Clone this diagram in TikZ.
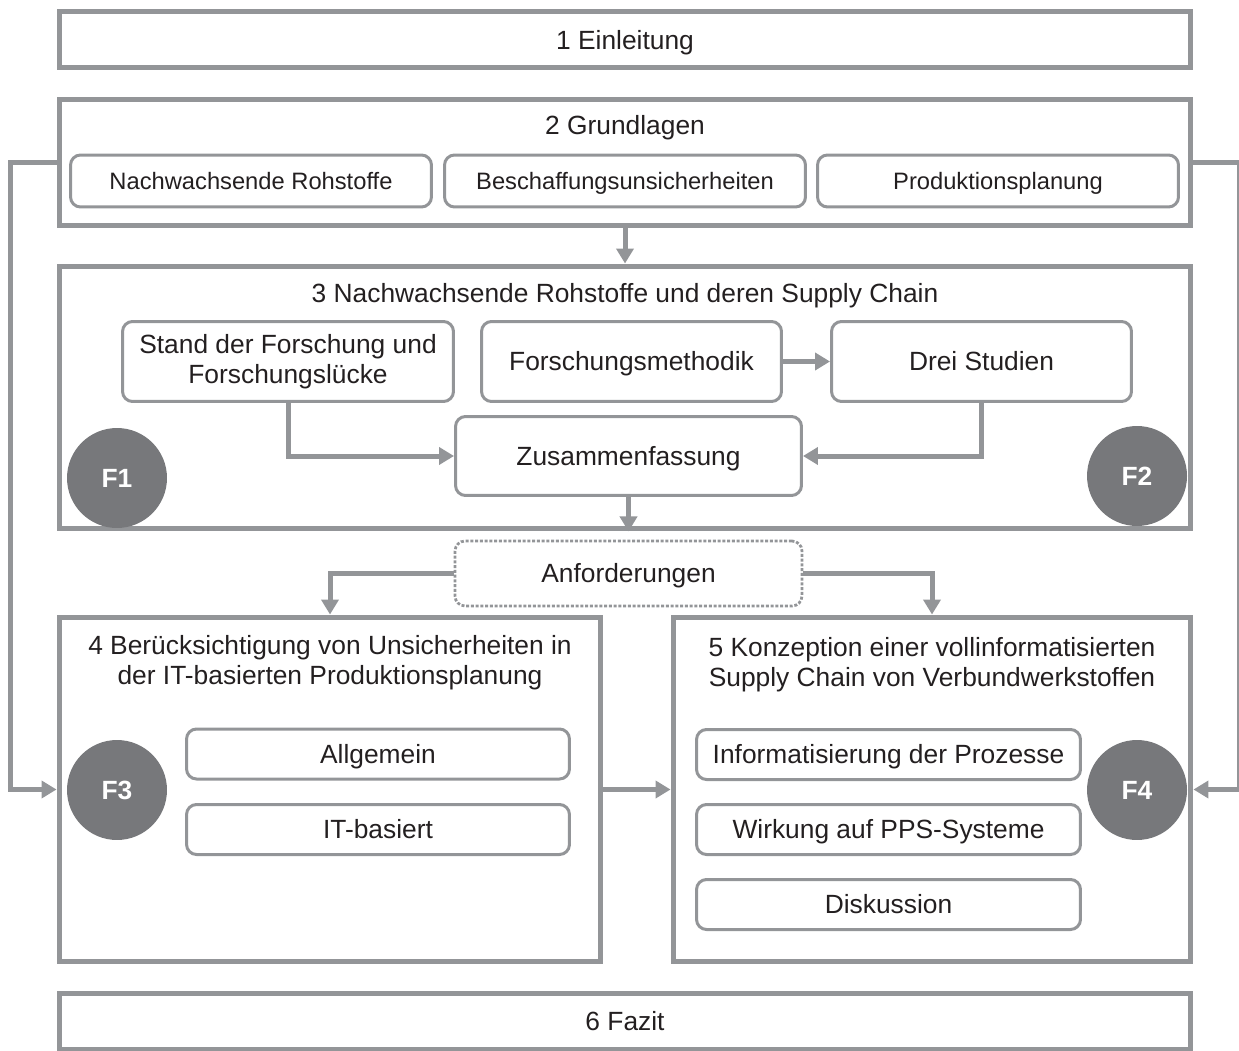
\documentclass[tikz,border=0pt]{standalone}
\usepackage{fontspec}
\setmainfont{Liberation Sans}
\usetikzlibrary{arrows.meta,positioning}

\definecolor{framegray}{HTML}{939598}
\definecolor{circlegray}{HTML}{77787B}
\definecolor{textblack}{HTML}{231F20}

\begin{document}
\begin{tikzpicture}[x=0.02cm,y=-0.02cm]
\tikzset{
  chapterbox/.style={rectangle,draw=framegray,line width=0.1cm,inner sep=0pt},
  oneline/.style={text height=10.8pt,text depth=0pt},
  partbox/.style={rectangle,rounded corners=0.2cm,draw=framegray,line width=0.06cm,inner sep=2pt,
    text=textblack,font=\fontsize{15}{17}\selectfont,align=center},
  smallpart/.style={partbox,oneline,text height=9.7pt,font=\fontsize{13.5}{16}\selectfont},
  resultbox/.style={partbox,oneline,densely dotted,line width=0.055cm},
  titletext/.style={text=textblack,font=\fontsize{15}{17}\selectfont,align=center,inner sep=0pt},
  questionnode/.style={circle,fill=circlegray,minimum size=2cm,inner sep=0pt,text=white,font=\fontsize{15}{17}\selectfont\bfseries},
  flow/.style={draw=framegray,line width=0.1cm,-{Triangle[length=0.3cm,width=0.34cm]}}
}
\useasboundingbox (0,0) rectangle (1239,1050);
% chapters
\node[chapterbox,minimum width=22.64cm,minimum height=1.12cm] (n_ch1) at (625,40) {};
\node[titletext,oneline] (n_t1) at (625,40) {1 Einleitung};
\node[chapterbox,minimum width=22.64cm,minimum height=2.54cm] (n_ch2) at (625,162.5) {};
\node[titletext,oneline] (n_t2) at (625,125) {2 Grundlagen};
\node[chapterbox,minimum width=22.64cm,minimum height=5.26cm] (n_ch3) at (625,397.5) {};
\node[titletext,oneline] (n_t3) at (625,293) {3 Nachwachsende Rohstoffe und deren Supply Chain};
\node[chapterbox,minimum width=10.84cm,minimum height=6.9cm] (n_ch4) at (330,789.5) {};
\node[titletext] (n_t4) at (330,663) {4 Berücksichtigung von Unsicherheiten in\\der IT-basierten Produktionsplanung};
\node[chapterbox,minimum width=10.36cm,minimum height=6.9cm] (n_ch5) at (932,789.5) {};
\node[titletext] (n_t5) at (932,665) {5 Konzeption einer vollinformatisierten\\Supply Chain von Verbundwerkstoffen};
\node[chapterbox,minimum width=22.64cm,minimum height=1.12cm] (n_ch6) at (625,1021) {};
\node[titletext,oneline] (n_t6) at (625,1021) {6 Fazit};
% chapter 2 parts
\node[smallpart,minimum width=7.22cm,minimum height=1.04cm] (n_raw) at (251,181) {Nachwachsende Rohstoffe};
\node[smallpart,minimum width=7.22cm,minimum height=1.04cm] (n_unc) at (625,181) {Beschaffungsunsicherheiten};
\node[smallpart,minimum width=7.22cm,minimum height=1.04cm] (n_pp) at (998,181) {Produktionsplanung};
% chapter 3 parts
\node[partbox,minimum width=6.62cm,minimum height=1.6cm] (n_state) at (288,361.5) {Stand der Forschung und\\Forschungslücke};
\node[partbox,oneline,minimum width=6.0cm,minimum height=1.6cm] (n_method) at (631.5,361.5) {Forschungsmethodik};
\node[partbox,oneline,minimum width=6.0cm,minimum height=1.6cm] (n_studies) at (981.5,361.5) {Drei Studien};
\node[partbox,oneline,minimum width=6.92cm,minimum height=1.58cm] (n_summary) at (628.5,456) {Zusammenfassung};
\node[resultbox,minimum width=6.94cm,minimum height=1.3cm] (n_req) at (628.5,573.5) {Anforderungen};
% chapter 4 parts
\node[partbox,oneline,minimum width=7.66cm,minimum height=1.0cm] (n_gen) at (378,754) {Allgemein};
\node[partbox,oneline,minimum width=7.66cm,minimum height=1.0cm] (n_it) at (378,829.5) {IT-basiert};
% chapter 5 parts
\node[partbox,oneline,minimum width=7.68cm,minimum height=1.0cm] (n_info) at (888.5,754.5) {Informatisierung der Prozesse};
\node[partbox,oneline,minimum width=7.68cm,minimum height=1.0cm] (n_pps) at (888.5,829.5) {Wirkung auf PPS-Systeme};
\node[partbox,oneline,minimum width=7.68cm,minimum height=1.0cm] (n_disc) at (888.5,904.5) {Diskussion};
% research questions
\node[questionnode] (n_f1) at (117,478) {F1};
\node[questionnode] (n_f2) at (1137,476) {F2};
\node[questionnode] (n_f3) at (117,790) {F3};
\node[questionnode] (n_f4) at (1137,790) {F4};
% connections
\draw[flow] (n_ch2.south) -- (n_ch3.north);
\draw[flow] (n_method.east) -- (n_studies.west);
\draw[flow] (n_state.south) |- (n_summary.west);
\draw[flow] (n_studies.south) |- (n_summary.east);
\draw[flow] (n_summary.south) -- (n_summary.south |- n_ch3.south);
\draw[flow] (n_req.west) -| (n_ch4.north);
\draw[flow] (n_req.east) -| (n_ch5.north);
\draw[flow] (n_ch4.east) -- (n_ch5.west);
\draw[flow] (n_ch2.west) -- ++(-46,0) |- (n_ch4.west);
\draw[flow] (n_ch2.east) -- ++(46,0) |- (n_ch5.east);
\end{tikzpicture}
\end{document}
